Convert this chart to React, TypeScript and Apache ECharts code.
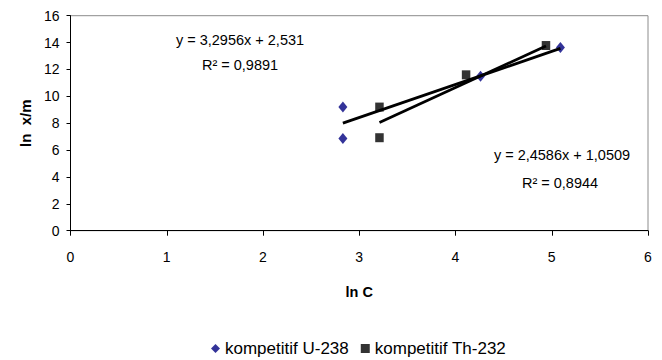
import React, { useEffect, useRef } from "react";
import * as echarts from "echarts";

const seriesNames = ["kompetitif U-238", "kompetitif Th-232"];
const uX = [2.83, 2.83, 4.26, 5.09];
const uY = [9.2, 6.87, 11.5, 13.64];
const thX = [3.21, 3.21, 4.11, 4.94];
const thY = [9.2, 6.92, 11.6, 13.78];
// trend lines [slope, intercept, xStart, xEnd]
const uTrend = [2.4586, 1.0509, 2.83, 5.09];
const thTrend = [3.2956, -2.531, 3.21, 4.94];
const uLabel = ["y = 2,4586x + 1,0509", "R² = 0,8944"];
const thLabel = ["y = 3,2956x + 2,531", "R² = 0,9891"];
const xTitle = "ln C";
const yTitle = "ln  x/m";

const pts = (xs: number[], ys: number[]) => xs.map((x, i) => [x, ys[i]]);
const trend = (t: number[]) => [
  [t[2], t[0] * t[2] + t[1]],
  [t[3], t[0] * t[3] + t[1]],
];

export default function App() {
  const ref = useRef<HTMLDivElement>(null);
  useEffect(() => {
    if (!ref.current) return;
    const chart = echarts.init(ref.current, null, { renderer: "svg" });
    const font = "Liberation Sans, Arial, sans-serif";
    const eq = (text: string, x: number, y: number) => ({
      type: "text",
      x,
      y,
      style: { text, fill: "#000", font: `14.5px ${font}`, align: "center", verticalAlign: "middle" },
    });
    chart.setOption({
      animation: false,
      textStyle: { fontFamily: font },
      grid: {
        left: 70.5,
        right: 14,
        top: 15.7,
        bottom: 129.3,
        show: true,
        borderColor: "#8c8c8c",
        borderWidth: 1,
      },
      xAxis: {
        type: "value",
        min: 0,
        max: 6,
        interval: 1,
        name: xTitle,
        nameLocation: "middle",
        nameGap: 54,
        nameTextStyle: { fontWeight: "bold", fontSize: 14.5, color: "#000", fontFamily: font },
        axisLine: { lineStyle: { color: "#000" } },
        axisTick: { show: true, length: 5, lineStyle: { color: "#000" } },
        axisLabel: { color: "#000", fontSize: 14, margin: 19, fontFamily: font },
        splitLine: { show: false },
      },
      yAxis: {
        type: "value",
        min: 0,
        max: 16,
        interval: 2,
        name: yTitle,
        nameLocation: "middle",
        nameGap: 36,
        nameTextStyle: { fontWeight: "bold", fontSize: 15, color: "#000", fontFamily: font },
        axisLine: { show: true, lineStyle: { color: "#000" } },
        axisTick: { show: true, length: 4, lineStyle: { color: "#000" } },
        axisLabel: { color: "#000", fontSize: 14, margin: 11, fontFamily: font },
        splitLine: { show: false },
      },
      legend: {
        data: seriesNames,
        top: 340,
        left: 211,
        padding: 0,
        itemWidth: 9,
        itemHeight: 9,
        itemGap: 12,
        textStyle: { fontSize: 17, color: "#000", fontFamily: font },
      },
      series: [
        {
          name: seriesNames[0],
          type: "scatter",
          symbol: "diamond",
          symbolSize: [9, 11],
          itemStyle: { color: "#000080" },
          data: pts(uX, uY),
          z: 3,
        },
        {
          name: seriesNames[1],
          type: "scatter",
          symbol: "rect",
          symbolSize: [8.5, 9],
          itemStyle: { color: "#000" },
          data: pts(thX, thY),
          z: 3,
        },
        {
          name: "trendU",
          type: "line",
          data: trend(uTrend),
          showSymbol: false,
          symbol: "none",
          lineStyle: { color: "#000", width: 2.8 },
          z: 4,
          silent: true,
        },
        {
          name: "trendTh",
          type: "line",
          data: trend(thTrend),
          showSymbol: false,
          symbol: "none",
          lineStyle: { color: "#000", width: 2.8 },
          z: 4,
          silent: true,
        },
      ],
      graphic: [
        eq(thLabel[0], 240, 40),
        eq(thLabel[1], 240, 65),
        eq(uLabel[0], 562, 155),
        eq(uLabel[1], 560, 183),
      ],
    });
    return () => chart.dispose();
  }, []);
  return <div ref={ref} style={{ width: 662, height: 360, position: "absolute", left: 0, top: 0 }} />;
}
